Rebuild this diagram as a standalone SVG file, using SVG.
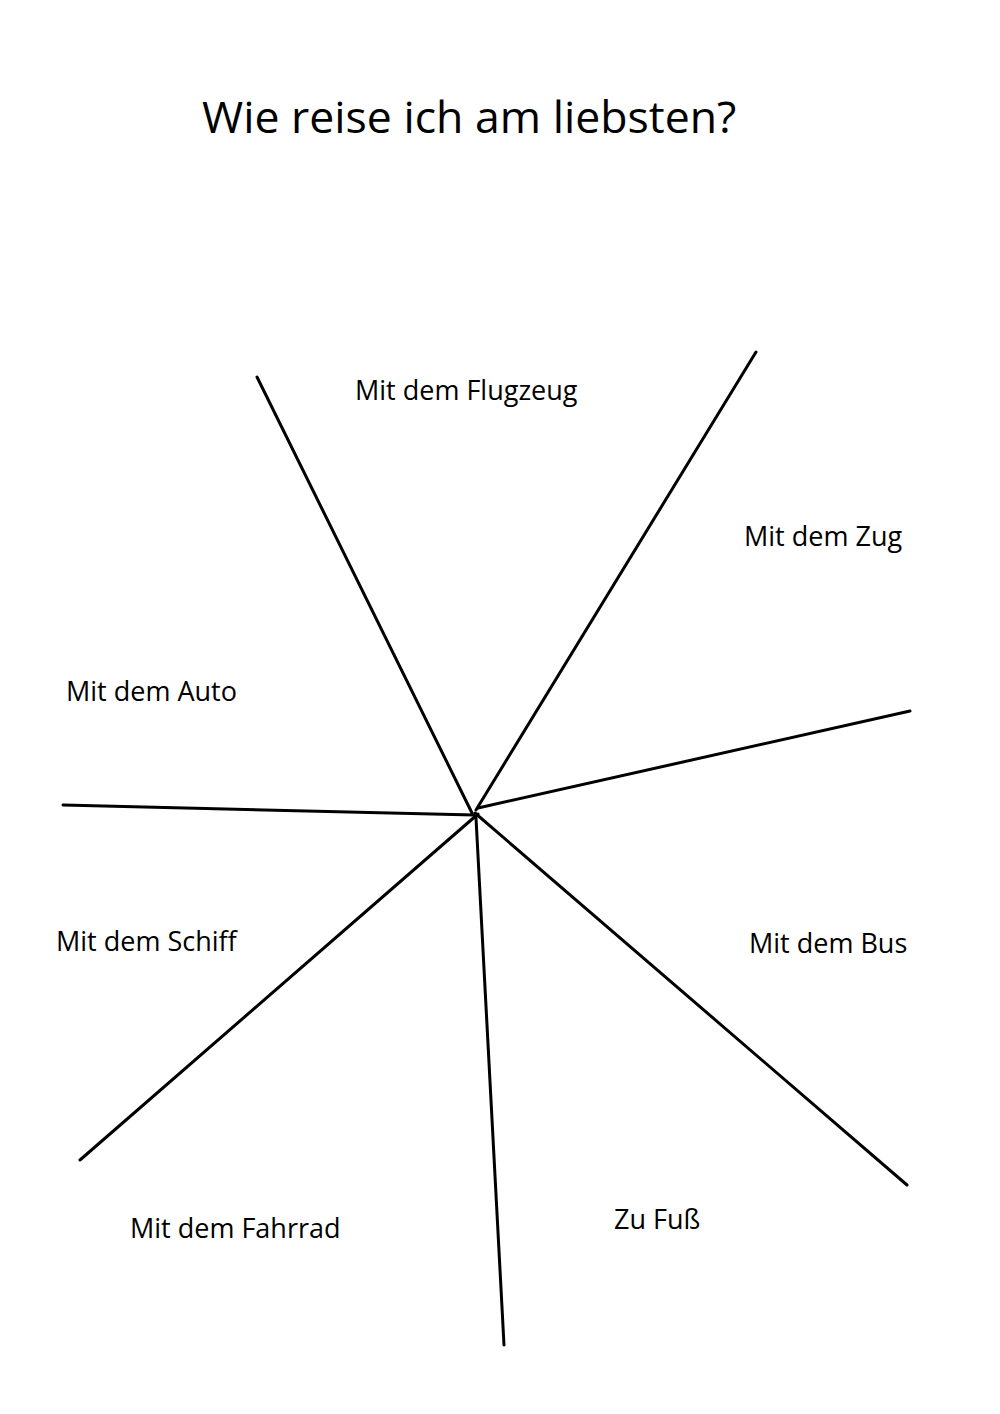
<svg xmlns="http://www.w3.org/2000/svg" width="1000" height="1414" viewBox="0 0 1000 1414">
<style>
.l{stroke:#000;stroke-width:3;fill:none;stroke-linecap:round}
text{font-family:"Open Sans","Noto Sans",sans-serif;fill:#000}
.t{font-size:27px}
</style>
<rect width="1000" height="1414" fill="#fff"/>
<text x="202" y="133" font-size="44.6">Wie reise ich am liebsten?</text>
<g id="lines">
<line class="l" x1="257" y1="377" x2="472" y2="813"/>
<line class="l" x1="756" y1="352" x2="476" y2="810"/>
<line class="l" x1="910" y1="711" x2="478" y2="808"/>
<line class="l" x1="63" y1="805" x2="474" y2="815"/>
<line class="l" x1="80" y1="1160" x2="478" y2="814"/>
<line class="l" x1="504" y1="1345" x2="476" y2="818"/>
<line class="l" x1="907" y1="1185" x2="475" y2="813"/>
</g>
<g id="labels" class="t">
<text x="355" y="400">Mit dem Flugzeug</text>
<text x="744" y="546">Mit dem Zug</text>
<text x="66" y="701">Mit dem Auto</text>
<text x="56" y="951">Mit dem Schiff</text>
<text x="749" y="953">Mit dem Bus</text>
<text x="130" y="1238">Mit dem Fahrrad</text>
<text x="614" y="1229">Zu Fuß</text>
</g>
</svg>
